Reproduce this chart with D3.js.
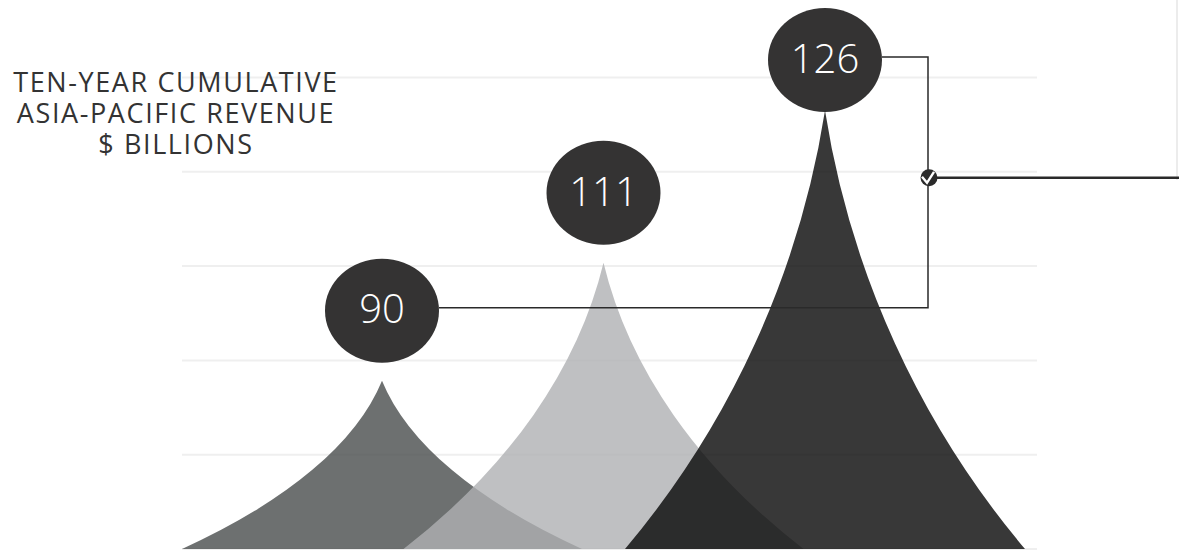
<!DOCTYPE html>
<html>

<head>
    <script src="https://d3js.org/d3.v7.min.js"></script>
    <meta charset="utf-8" />
    <title>Asia-Pacific revenue</title>
    <style>
        body { margin: 0; background: #fff; }
    </style>
</head>

<body>
    <svg id="chart" width="1179" height="550"></svg>

    <script>
        // data
        var periods = ["first", "second", "third"];
        var revenue = [90, 111, 126];                 // $ billions, shown in the bubbles
        var peakLevels = [35.7, 60.7, 93.0];          // peak heights on the hidden 0-100 axis
        var gridTicks = [0, 20, 40, 60, 80, 100];
        var titleLines = ["TEN-YEAR CUMULATIVE", "ASIA-PACIFIC REVENUE", "$ BILLIONS"];

        var width = 1179, height = 550;
        var plot = { left: 182, right: 1037, top: 77.5, bottom: 549 };
        var halfWidth = 200;

        var svg = d3.select("#chart");

        var x = d3.scalePoint()
            .domain(periods)
            .range([382, 825]);

        var y = d3.scaleLinear()
            .domain([0, 100])
            .range([plot.bottom, plot.top]);

        var colour = d3.scaleOrdinal()
            .domain(periods)
            .range(["#484c4c", "#afb0b3", "#060606"]);

        // gridlines
        svg.append("g")
            .selectAll("line")
            .data(gridTicks)
            .enter().append("line")
            .attr("x1", plot.left)
            .attr("x2", plot.right)
            .attr("y1", d => y(d))
            .attr("y2", d => y(d))
            .attr("stroke", "#efefef")
            .attr("stroke-width", 2);

        // faint line on the right edge
        svg.append("line")
            .attr("x1", width - 2).attr("x2", width - 2)
            .attr("y1", 0).attr("y2", 180)
            .attr("stroke", "#e6e6e6")
            .attr("stroke-width", 1.5);

        // title
        svg.append("text")
            .attr("text-anchor", "middle")
            .attr("font-family", "'Open Sans', sans-serif")
            .attr("font-size", 27)
            .attr("letter-spacing", 1.6)
            .attr("fill", "#333")
            .selectAll("tspan")
            .data(titleLines)
            .enter().append("tspan")
            .attr("x", 176)
            .attr("y", (d, i) => 92 + i * 31)
            .text(d => d);

        // curved peaks (concave sides as elliptic arcs, scaled with height)
        function peakPath(p, i) {
            var cx = x(p), top = y(peakLevels[i]), base = y(0);
            var rx = 4.46 * halfWidth, ry = 2.04 * (base - top);
            return "M" + (cx - halfWidth) + "," + base +
                " A" + rx + "," + ry + " 0 0 0 " + cx + "," + top +
                " A" + rx + "," + ry + " 0 0 0 " + (cx + halfWidth) + "," + base + " Z";
        }

        svg.append("g")
            .selectAll("path")
            .data(periods)
            .enter().append("path")
            .attr("d", peakPath)
            .attr("fill", d => colour(d))
            .attr("fill-opacity", 0.8);

        // bubble positions
        var rx = 57, ry = 52;
        var bubbles = periods.map((p, i) => ({
            x: x(p),
            y: Math.max(y(peakLevels[i]) - 70, 60),
            value: revenue[i]
        }));

        // bracket linking first and last bubble
        var first = bubbles[0], last = bubbles[bubbles.length - 1];
        var bx = x(periods[periods.length - 1]) + 103;
        svg.append("path")
            .attr("d", "M" + (first.x + rx) + "," + (first.y - 3) + " H" + bx + " V" + (last.y - 3) + " H" + (last.x + rx))
            .attr("fill", "none")
            .attr("stroke", "#2a2a2a")
            .attr("stroke-width", 1.5);

        var my = last.y + (first.y - last.y) * 0.47;
        svg.append("line")
            .attr("x1", bx).attr("x2", width)
            .attr("y1", my).attr("y2", my)
            .attr("stroke", "#2a2a2a")
            .attr("stroke-width", 2.5);

        svg.append("circle")
            .attr("cx", bx + 1).attr("cy", my)
            .attr("r", 8.5)
            .attr("fill", "#2a2a2a");
        svg.append("path")
            .attr("d", "M" + (bx - 6) + "," + (my - 1) + " l5,6 l7,-11")
            .attr("fill", "none")
            .attr("stroke", "#fff")
            .attr("stroke-width", 2.4);

        // bubbles
        var g = svg.append("g")
            .selectAll("g")
            .data(bubbles)
            .enter().append("g")
            .attr("transform", d => "translate(" + d.x + "," + d.y + ")");

        g.append("ellipse")
            .attr("rx", rx)
            .attr("ry", ry)
            .attr("fill", "#343333");

        g.append("text")
            .attr("text-anchor", "middle")
            .attr("dy", "0.32em")
            .attr("font-family", "'Open Sans', sans-serif")
            .attr("font-weight", 300)
            .attr("font-size", 40)
            .attr("fill", "#fff")
            .text(d => d.value);
    </script>
</body>

</html>
